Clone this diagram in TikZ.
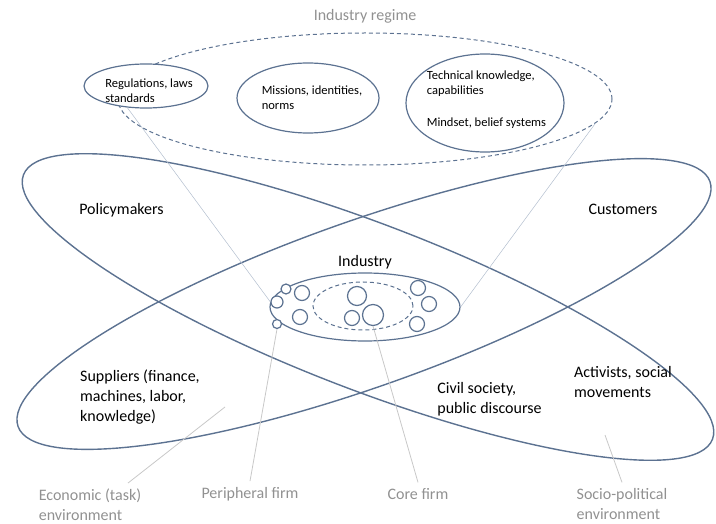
\documentclass[tikz,border=0pt]{standalone}
\usepackage{fontspec}
\setmainfont{Carlito}
\usetikzlibrary{shapes.geometric,positioning}
\definecolor{rimblue}{RGB}{92,114,145}
\definecolor{tagray}{RGB}{145,145,145}
\definecolor{leadgray}{RGB}{200,200,200}
\definecolor{leadblue}{RGB}{178,190,206}
\tikzstyle{envring}=[draw=rimblue, line width=1.4pt]
\tikzstyle{field}=[ellipse, draw=rimblue, line width=1.2pt, fill=white, inner sep=0pt]
\tikzstyle{regimering}=[ellipse, draw=rimblue, line width=1pt, dash pattern=on 4pt off 3pt, inner sep=0pt]
\tikzstyle{firm}=[circle, draw=rimblue, line width=1.2pt, fill=white, inner sep=0pt]
\tikzstyle{bigtxt}=[inner sep=0pt, align=left, text=black, font=\fontsize{16}{20}\selectfont]
\tikzstyle{smalltxt}=[inner sep=0pt, align=left, text=black, font=\fontsize{12.5}{15}\selectfont]
\tikzstyle{tag}=[inner sep=0pt, outer sep=6pt, align=left, text=tagray, font=\fontsize{16}{20}\selectfont]
\tikzstyle{lead}=[color=leadgray, line width=0.8pt]
\tikzstyle{thinlead}=[color=leadblue, line width=0.5pt]

\begin{document}
\begin{tikzpicture}[x=1pt,y=-1pt]
    \useasboundingbox (0,0) rectangle (716,524);
    % the two environments
    \draw[envring, rotate around={-21:(368,307)}] (368,307) ellipse [x radius=369, y radius=83];
    \draw[envring, rotate around={19.5:(364,304)}] (364,304) ellipse [x radius=367, y radius=83];
    % industry regime
    \node (regime) [regimering, minimum width=494pt, minimum height=132pt] at (365,99) {};
    \node (reg) [field, minimum width=124pt, minimum height=44pt] at (146,86) {};
    \node (mis) [field, minimum width=142pt, minimum height=70pt] at (308,98) {};
    \node (tech) [field, minimum width=158pt, minimum height=98pt] at (485,103) {};
    \node (regimelab) [tag, above=3pt of regime] {Industry regime};
    % industry with its firms
    \node (ind) [field, minimum width=190pt, minimum height=68pt] at (365,307) {};
    \node (coreset) [regimering, minimum width=100pt, minimum height=48pt] at (363,306) {};
    \node (indlab) [bigtxt, above=3pt of ind] {Industry};
    \node (pf1) [firm, minimum size=10pt] at (286,289) {};
    \node (pf2) [firm, minimum size=12pt] at (277,302) {};
    \node (pf3) [firm, minimum size=9pt] at (277,324) {};
    \node (f1) [firm, minimum size=15pt] at (302,293) {};
    \node (f2) [firm, minimum size=15pt] at (300,317) {};
    \node (cf1) [firm, minimum size=19pt] at (357,296) {};
    \node (cf2) [firm, minimum size=15pt] at (352,318) {};
    \node (cf3) [firm, minimum size=21pt] at (373,315) {};
    \node (f3) [firm, minimum size=15pt] at (418,288) {};
    \node (f4) [firm, minimum size=15pt] at (429,304) {};
    \node (f5) [firm, minimum size=15pt] at (417,324) {};
    % texts
    \node (regtxt) [smalltxt] at (149,90.5) {Regulations, laws\\standards};
    \node (mistxt) [smalltxt] at (312,98) {Missions, identities,\\norms};
    \node (techtxt) [smalltxt] at (486.5,100) {Technical knowledge,\\capabilities\\[17pt]Mindset, belief systems};
    \node (pol) [bigtxt] at (121.5,210) {Policymakers};
    \node (cus) [bigtxt] at (623,209) {Customers};
    \node (sup) [bigtxt] at (140,397) {Suppliers (finance,\\machines, labor,\\knowledge)};
    \node (civ) [bigtxt] at (489.5,399.5) {Civil society,\\public discourse};
    \node (act) [bigtxt] at (623,382) {Activists, social\\movements};
    \node (econ) [tag] at (90,505) {Economic (task)\\environment};
    \node (periph) [tag] at (250,494) {Peripheral firm};
    \node (corefirm) [tag] at (418,494) {Core firm};
    \node (socio) [tag] at (622,504) {Socio-political\\environment};
    \coordinate (econtip) at (225,407);
    \coordinate (sociotip) at (605,435);
    \path[thinlead]
        (reg.229) edge (pf2.west)
        (regime.-6) edge (ind.east);
    \path[lead]
        (pf3.south) edge (periph.north)
        (cf3.south) edge (corefirm.north)
        (econtip) edge (econ.30)
        (sociotip) edge (socio.north);
\end{tikzpicture}
\end{document}
